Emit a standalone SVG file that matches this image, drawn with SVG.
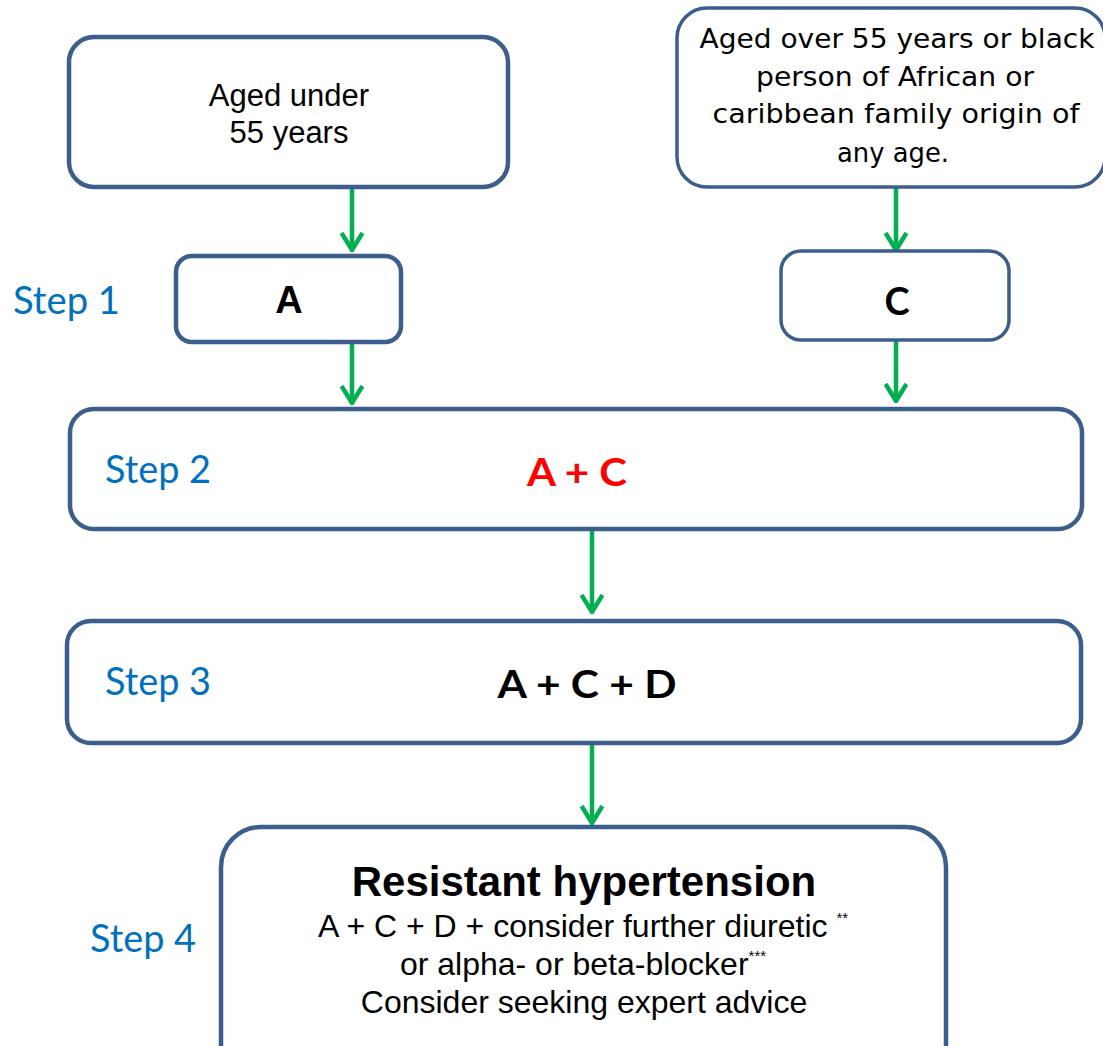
<svg xmlns="http://www.w3.org/2000/svg" width="1103" height="1046" viewBox="0 0 1103 1046">
<defs>
<style>
.box{fill:#fff;stroke:#3C5E8C;stroke-width:4.5}
.thin{stroke-width:3.5}
.arial{font-family:"Liberation Sans",Arial,sans-serif;fill:#000}
.tah{font-family:"DejaVu Sans","Noto Sans",sans-serif;fill:#000}
.cal{font-family:Lato,"Open Sans",sans-serif}
.step{font-family:Lato,"Open Sans",sans-serif;fill:#0070C0;font-size:38px}
.conn{stroke:#00B050;stroke-width:4.5;fill:none}
</style>
<marker id="arr" viewBox="0 0 24 20" markerWidth="24" markerHeight="20" refX="12" refY="18" orient="0" markerUnits="userSpaceOnUse">
<path d="M1.5,1 L12,18 L22.5,1" fill="none" stroke="#00B050" stroke-width="4.5"/>
</marker>
</defs>
<rect width="1103" height="1046" fill="#fff"/>

<g id="connectors">
<line class="conn" x1="352" y1="189" x2="352" y2="250" marker-end="url(#arr)"/>
<line class="conn" x1="352" y1="343" x2="352" y2="403" marker-end="url(#arr)"/>
<line class="conn" x1="896" y1="188" x2="896" y2="250" marker-end="url(#arr)"/>
<line class="conn" x1="896" y1="341" x2="896" y2="401" marker-end="url(#arr)"/>
<line class="conn" x1="592" y1="531" x2="592" y2="612" marker-end="url(#arr)"/>
<line class="conn" x1="592" y1="745" x2="592" y2="823" marker-end="url(#arr)"/>
</g>

<g id="under55">
<rect class="box" x="69" y="37" width="439" height="150" rx="25"/>
<text class="arial" font-size="31" text-anchor="middle" x="289" y="106">Aged under</text>
<text class="arial" font-size="31" text-anchor="middle" x="289" y="143">55 years</text>
</g>

<g id="over55">
<rect class="box thin" x="677" y="8" width="428" height="179" rx="30"/>
<text class="tah" font-size="27" text-anchor="middle" x="897" y="48" textLength="395" lengthAdjust="spacingAndGlyphs">Aged over 55 years or black</text>
<text class="tah" font-size="27" text-anchor="middle" x="895" y="86" textLength="278" lengthAdjust="spacingAndGlyphs">person of African or</text>
<text class="tah" font-size="27" text-anchor="middle" x="896" y="123" textLength="367" lengthAdjust="spacingAndGlyphs">caribbean family origin of</text>
<text class="tah" font-size="27" text-anchor="middle" x="893" y="162" textLength="112" lengthAdjust="spacingAndGlyphs">any age.</text>
</g>

<g id="step1label">
<text class="step" x="13" y="314" textLength="107" lengthAdjust="spacingAndGlyphs">Step 1</text>
</g>

<g id="boxA">
<rect class="box" x="176" y="256" width="225" height="86" rx="16"/>
<text class="arial" font-size="38" font-weight="bold" text-anchor="middle" x="289" y="313">A</text>
</g>

<g id="boxC">
<rect class="box thin" x="781" y="251" width="228" height="89" rx="20"/>
<text class="cal" font-size="38" font-weight="bold" text-anchor="middle" x="897" y="315" fill="#000">C</text>
</g>

<g id="step2">
<rect class="box" x="70" y="409" width="1012" height="120" rx="24"/>
<text class="step" x="105" y="483" textLength="106" lengthAdjust="spacingAndGlyphs">Step 2</text>
<text class="cal" font-size="38" font-weight="bold" fill="#FF0000" text-anchor="middle" x="577" y="486" textLength="100" lengthAdjust="spacingAndGlyphs">A + C</text>
</g>

<g id="step3">
<rect class="box" x="67" y="621" width="1014" height="122" rx="24"/>
<text class="step" x="105" y="695" textLength="106" lengthAdjust="spacingAndGlyphs">Step 3</text>
<text class="cal" font-size="38" font-weight="bold" fill="#000" text-anchor="middle" x="587" y="698" textLength="179" lengthAdjust="spacingAndGlyphs">A + C + D</text>
</g>

<g id="step4label">
<text class="step" x="90" y="952" textLength="106" lengthAdjust="spacingAndGlyphs">Step 4</text>
</g>

<g id="step4">
<rect class="box" x="221" y="827" width="725" height="260" rx="40"/>
<text class="arial" font-size="42" font-weight="bold" text-anchor="middle" x="584" y="896">Resistant hypertension</text>
<text class="arial" font-size="32" text-anchor="middle" x="583" y="937">A + C + D + consider further diuretic <tspan font-size="15" dy="-14">**</tspan></text>
<text class="arial" font-size="32" text-anchor="middle" x="583" y="975">or alpha- or beta-blocker<tspan font-size="15" dy="-14">***</tspan></text>
<text class="arial" font-size="32" text-anchor="middle" x="584" y="1013">Consider seeking expert advice</text>
</g>
</svg>
